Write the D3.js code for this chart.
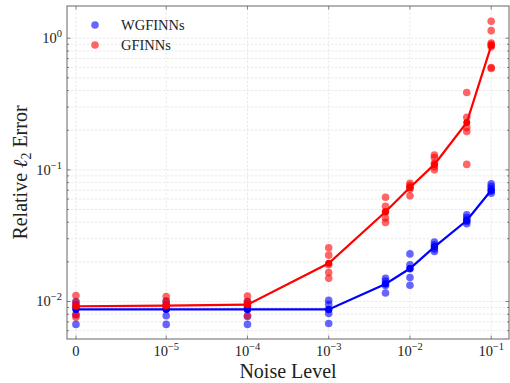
<!DOCTYPE html>
<html>
<head>
<meta charset="utf-8">
<script src="https://cdn.jsdelivr.net/npm/d3@7"></script>
<style>
  body { margin: 0; background: #fff; }
  text { font-family: "Liberation Serif", "DejaVu Serif", serif; fill: #222; }
</style>
</head>
<body>
<svg width="510" height="383"></svg>
<script>
const width = 510, height = 383;
const margin = {left: 67, right: 1, top: 6, bottom: 44};

// noise levels (x) and tick labels
const noise = [0, 1e-5, 1e-4, 1e-3, 5e-3, 1e-2, 2e-2, 5e-2, 1e-1];
const xTicks = [0, 1e-5, 1e-4, 1e-3, 1e-2, 1e-1];
const xTickExp = [null, -5, -4, -3, -2, -1];
const yTicks = [1e-2, 1e-1, 1];
const yTickExp = [-2, -1, 0];

// individual runs per noise level
const wgRuns = [
  [0.0100, 0.0094, 0.0089, 0.0079, 0.0067],
  [0.0100, 0.0094, 0.0088, 0.0078, 0.0067],
  [0.0100, 0.0093, 0.0087, 0.0077, 0.0067],
  [0.0102, 0.0095, 0.0087, 0.0081, 0.0068],
  [0.0150, 0.0143, 0.0137, 0.0132, 0.0116],
  [0.0230, 0.0190, 0.0177, 0.0152, 0.0133],
  [0.0283, 0.0270, 0.0260, 0.0250, 0.0240],
  [0.0456, 0.0435, 0.0418, 0.0405, 0.0390],
  [0.0785, 0.0750, 0.0720, 0.0690, 0.0665]
];
const gfRuns = [
  [0.0111, 0.0098, 0.0092, 0.0080, 0.0076],
  [0.0109, 0.0101, 0.0095, 0.0090, 0.0088],
  [0.0110, 0.0100, 0.0096, 0.0091, 0.0078],
  [0.0256, 0.0225, 0.0190, 0.0166, 0.0150],
  [0.0619, 0.0528, 0.0480, 0.0430, 0.0399],
  [0.0792, 0.0760, 0.0740, 0.0715, 0.0635],
  [0.1297, 0.1240, 0.1125, 0.1055, 0.1000],
  [0.387, 0.251, 0.2095, 0.1954, 0.110],
  [1.346, 1.142, 0.920, 0.900, 0.860, 0.600, 0.590]
];
// mean curves
const wgMean = [0.0087, 0.0087, 0.0087, 0.0087, 0.0136, 0.0178, 0.0260, 0.0412, 0.0700];
const gfMean = [0.0092, 0.0093, 0.00945, 0.0195, 0.0480, 0.0735, 0.110, 0.229, 0.88];

const series = [
  {name: "WGFINNs", runs: wgRuns, mean: wgMean, line: "#0000ff", dot: "rgba(0,0,255,0.6)"},
  {name: "GFINNs", runs: gfRuns, mean: gfMean, line: "#ff0000", dot: "rgba(255,0,0,0.6)"}
];

// symlog like matplotlib: linthresh 1e-5, linscale 1
const linthresh = 1e-5, linscale = 1 / (1 - 1 / 10);
const symlog = v => v <= linthresh ? linscale * v / linthresh : linscale + Math.log10(v / linthresh);

const xs = d3.scaleLinear().domain([-0.11, 5.33]).range([margin.left, width - margin.right]);
const x = v => xs(symlog(v));
const y = d3.scaleLog().domain([Math.pow(10, -2.285), Math.pow(10, 0.245)]).range([height - margin.bottom, margin.top]);

const svg = d3.select("svg");
const x0 = margin.left, x1 = width - margin.right, y0 = height - margin.bottom, y1 = margin.top;

// minor y values
const minorY = [];
for (let e = -3; e <= 0; e++) for (let m = 2; m <= 9; m++) {
  const v = m * Math.pow(10, e);
  if (v > y.domain()[0] && v < y.domain()[1]) minorY.push(v);
}

const grid = svg.append("g").attr("stroke", "#dcdcdc").attr("stroke-width", 0.6).attr("stroke-dasharray", "2.5,1.5");
grid.selectAll(".gy").data(yTicks.concat(minorY)).join("line")
  .attr("x1", x0).attr("x2", x1).attr("y1", d => y(d)).attr("y2", d => y(d));
grid.selectAll(".gx").data(xTicks).join("line")
  .attr("y1", y0).attr("y2", y1).attr("x1", d => x(d)).attr("x2", d => x(d));

// scatter of runs
series.forEach(s => {
  const pts = [];
  s.runs.forEach((r, i) => r.forEach(v => pts.push([noise[i], v])));
  svg.append("g").selectAll("circle").data(pts).join("circle")
    .attr("cx", d => x(d[0])).attr("cy", d => y(d[1])).attr("r", 3.8)
    .attr("fill", s.dot);
});

// mean lines
series.forEach(s => {
  const line = d3.line().x((d, i) => x(noise[i])).y(d => y(d));
  svg.append("path").datum(s.mean).attr("d", line)
    .attr("fill", "none").attr("stroke", s.line).attr("stroke-width", 2.2);
  svg.append("g").selectAll("circle").data(s.mean).join("circle")
    .attr("cx", (d, i) => x(noise[i])).attr("cy", d => y(d)).attr("r", 3.5)
    .attr("fill", s.line);
});

// frame
svg.append("rect").attr("x", x0).attr("y", y1).attr("width", x1 - x0).attr("height", y0 - y1)
  .attr("fill", "none").attr("stroke", "#666").attr("stroke-width", 1);

// ticks (inward, all sides)
const tk = svg.append("g").attr("stroke", "#666").attr("stroke-width", 0.8);
xTicks.forEach(v => {
  tk.append("line").attr("x1", x(v)).attr("x2", x(v)).attr("y1", y0).attr("y2", y0 - 3.5);
  tk.append("line").attr("x1", x(v)).attr("x2", x(v)).attr("y1", y1).attr("y2", y1 + 3.5);
});
yTicks.forEach(v => {
  tk.append("line").attr("x1", x0).attr("x2", x0 + 3.5).attr("y1", y(v)).attr("y2", y(v));
  tk.append("line").attr("x1", x1).attr("x2", x1 - 3.5).attr("y1", y(v)).attr("y2", y(v));
});
minorY.forEach(v => {
  tk.append("line").attr("x1", x0).attr("x2", x0 + 2).attr("y1", y(v)).attr("y2", y(v));
  tk.append("line").attr("x1", x1).attr("x2", x1 - 2).attr("y1", y(v)).attr("y2", y(v));
});

// power label helper
function powLabel(g, e) {
  g.append("tspan").text("10");
  g.append("tspan").attr("dy", -6).attr("font-size", 10.5).text(e < 0 ? "\u2212" + (-e) : e);
}

xTicks.forEach((v, i) => {
  const t = svg.append("text").attr("x", x(v)).attr("y", y0 + 17).attr("text-anchor", "middle").attr("font-size", 14.5);
  if (xTickExp[i] === null) t.text("0"); else powLabel(t, xTickExp[i]);
});
yTicks.forEach((v, i) => {
  const t = svg.append("text").attr("x", x0 - 5).attr("y", y(v) + 5).attr("text-anchor", "end").attr("font-size", 14.5);
  powLabel(t, yTickExp[i]);
});

// axis labels
svg.append("text").attr("x", (x0 + x1) / 2).attr("y", 378).attr("text-anchor", "middle")
  .attr("font-size", 20).text("Noise Level");
const yl = svg.append("text").attr("transform", `translate(27,${(y0 + y1) / 2}) rotate(-90)`)
  .attr("text-anchor", "middle").attr("font-size", 20);
yl.append("tspan").text("Relative ");
yl.append("tspan").attr("font-style", "italic").text("\u2113");
yl.append("tspan").attr("dy", 4).attr("font-size", 14).text("2");
yl.append("tspan").attr("dy", -4).text(" Error");

// legend
series.forEach((s, i) => {
  const ly = 25 + i * 20;
  svg.append("circle").attr("cx", 95).attr("cy", ly).attr("r", 3.8).attr("fill", s.dot);
  svg.append("text").attr("x", 121).attr("y", ly + 5).attr("font-size", 14.5).text(s.name);
});
</script>
</body>
</html>
